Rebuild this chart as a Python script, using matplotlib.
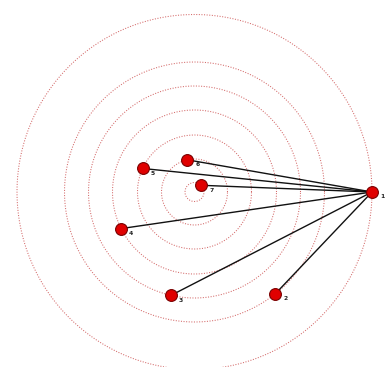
import numpy as np
import matplotlib.pyplot as plt

# node ids, ring radius and angle (degrees) of each node in the radial layout
node_ids = ["1", "2", "3", "4", "5", "6", "7"]
node_radius = [177.5, 130, 106, 82, 57, 33, 9.5]
node_angle = [0, -51.6, -102.8, -153.5, 155.6, 102.7, 45]

# every other node is linked to node 1
hub = "1"
links = ["2", "3", "4", "5", "6", "7"]

fig = plt.figure(figsize=(3.87, 3.67), dpi=100)
ax = fig.add_axes([0, 0, 1, 1])
ax.set_xlim(-194.5, 192.5)
ax.set_ylim(-175, 192)
ax.set_aspect("equal")
ax.axis("off")

ang = np.radians(node_angle)
xs = np.array(node_radius) * np.cos(ang)
ys = np.array(node_radius) * np.sin(ang)
pos = {n: (x, y) for n, x, y in zip(node_ids, xs, ys)}

# concentric rings, one per node
t = np.linspace(0, 2 * np.pi, 400)
for r in node_radius:
    ax.plot(r * np.cos(t), r * np.sin(t), color="#d46a6a",
            linestyle=(0, (1, 1.5)), linewidth=0.75, zorder=1)

for n in links:
    x0, y0 = pos[hub]
    x1, y1 = pos[n]
    ax.plot([x0, x1], [y0, y1], color="#111111", linewidth=1.0, zorder=2)

ax.plot(xs, ys, "o", markersize=8.5, markerfacecolor="#e00000",
        markeredgecolor="#7a0000", markeredgewidth=0.8, zorder=3)

for n, x, y in zip(node_ids, xs, ys):
    ax.text(x + 10, y - 5, n, fontsize=4.3, fontweight="bold",
            color="#222222", ha="center", va="center", zorder=4)

fig.savefig("out.png", dpi=100)
